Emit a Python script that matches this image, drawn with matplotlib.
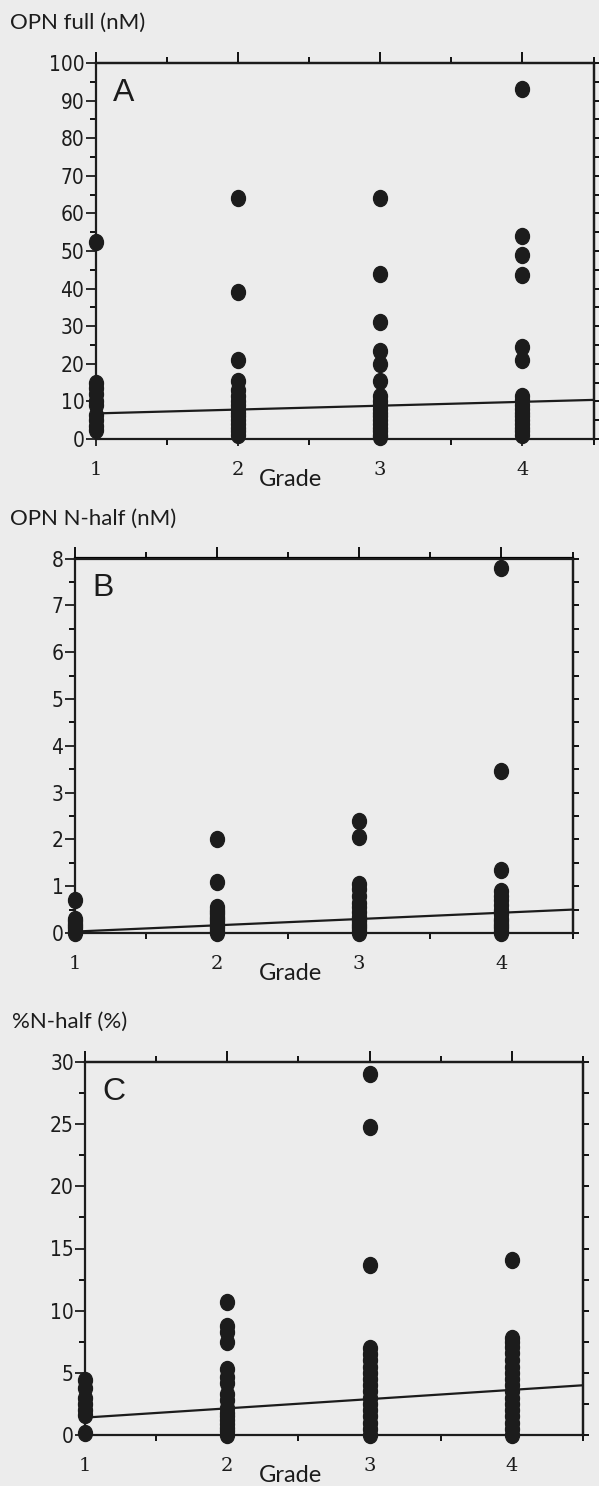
import numpy as np
import matplotlib
matplotlib.use("Agg")
import matplotlib.pyplot as plt
from matplotlib.path import Path
from matplotlib.ticker import MultipleLocator

W, H = 599, 1486
BG = "#ececec"
INK = "#1c1c1c"

# ---- data ----
grades = [1, 2, 3, 4]

opn_full = [
    [52.5, 15, 13.5, 12, 10, 9, 6.5, 5, 3.5, 2.5],
    [64, 39, 21, 15.5, 13, 11.5, 10, 9, 8, 7, 6, 5, 4, 3, 2, 1],
    [64, 44, 31, 23.5, 20, 15.5, 11.5, 10, 9, 8, 7, 6, 5, 4, 3, 2, 1, 0.5],
    [93, 54, 49, 43.5, 24.5, 21, 11.5, 10.5, 9, 8, 7, 6, 5, 4, 3, 2, 1],
]
opn_nhalf = [
    [0.7, 0.3, 0.25, 0.2, 0.15, 0.1, 0.05, 0.0],
    [2.0, 1.1, 0.55, 0.5, 0.45, 0.4, 0.35, 0.3, 0.25, 0.2, 0.15, 0.1, 0.05, 0.0],
    [2.4, 2.05, 1.05, 0.95, 0.8, 0.65, 0.55, 0.45, 0.35, 0.3, 0.25, 0.2,
     0.15, 0.1, 0.05, 0.0],
    [7.8, 3.45, 1.35, 0.9, 0.8, 0.7, 0.6, 0.5, 0.45, 0.4, 0.3, 0.25, 0.2,
     0.15, 0.1, 0.05, 0.0],
]
pct_nhalf = [
    [4.4, 3.8, 3.0, 2.5, 2.0, 1.6, 0.2],
    [10.7, 8.8, 8.3, 7.5, 5.3, 4.7, 4.2, 3.3, 2.8, 2.2, 1.8, 1.5, 1.2, 0.9,
     0.6, 0.3, 0.0],
    [29.0, 24.8, 13.7, 7.0, 6.5, 6.0, 5.5, 5.0, 4.5, 4.0, 3.5, 3.0, 2.5, 2.0,
     1.5, 1.0, 0.5, 0.0],
    [14.1, 7.8, 7.5, 7.1, 6.6, 6.0, 5.5, 5.0, 4.5, 4.0, 3.5, 3.0, 2.5, 2.0,
     1.5, 1.0, 0.5, 0.0],
]

# regression line end points at grade 1 and at the right edge (4.5)
fit_x = [1, 4.5]
fit_full = [6.8, 10.4]
fit_nhalf = [0.03, 0.5]
fit_pct = [1.4, 4.0]

# panel: data, fit, ymax, major, minor, letter, ylabel, box (l, r, t, b px)
PANELS = [
    (opn_full, fit_full, 100, 10, 5, "A", "OPN full (nM)",
     (95.5, 593.5, 63, 439), 9.5),
    (opn_nhalf, fit_nhalf, 8, 1, 0.5, "B", "OPN N-half (nM)",
     (74.5, 572.5, 558.5, 933), 9.5),
    (pct_nhalf, fit_pct, 30, 5, 2.5, "C", "%N-half (%)",
     (85, 583, 1062, 1435), 11.5),
]

circ = Path.unit_circle()
dot = Path(circ.vertices * np.array([0.87, 1.0]), circ.codes)

fig = plt.figure(figsize=(W / 100, H / 100), dpi=100, facecolor=BG)

for data, fit, ymax, major, minor, letter, ylabel, (l, r, t, b), tx in PANELS:
    ax = fig.add_axes([l / W, 1 - b / H, (r - l) / W, (b - t) / H])
    ax.set_facecolor(BG)
    ax.set_xlim(1, 4.5)
    ax.set_ylim(0, ymax)

    for g, vals in zip(grades, data):
        ax.plot([g] * len(vals), vals, linestyle="none", marker=dot,
                markersize=11.5, color=INK, clip_on=False, zorder=3)
    ax.plot(fit_x, fit, color=INK, linewidth=1.6, zorder=2)

    for s in ax.spines.values():
        s.set_linewidth(1.6)
        s.set_color(INK)

    # left axis
    ax.yaxis.set_major_locator(MultipleLocator(major))
    ax.yaxis.set_minor_locator(MultipleLocator(minor))
    ax.tick_params(axis="y", which="major", direction="out", length=7,
                   width=1.3, pad=1, labelsize=15, colors=INK)
    ax.tick_params(axis="y", which="minor", direction="out", length=4,
                   width=1.3)
    for lab in ax.get_yticklabels():
        lab.set_family(["DejaVu Sans"])
        lab.set_stretch("condensed")

    # bottom axis
    ax.set_xticks(grades)
    ax.xaxis.set_minor_locator(MultipleLocator(0.5))
    ax.tick_params(axis="x", which="major", direction="out", length=5,
                   width=1.3, pad=11, labelsize=14, colors=INK)
    ax.tick_params(axis="x", which="minor", direction="out", length=4,
                   width=1.3)
    for lab in ax.get_xticklabels():
        lab.set_family(["DejaVu Serif"])

    # top axis: longer ticks at integers
    top = ax.secondary_xaxis("top")
    top.set_xticks([1, 2, 3, 4])
    top.xaxis.set_minor_locator(MultipleLocator(0.5))
    top.tick_params(which="major", direction="out", length=8, width=1.3,
                    labeltop=False)
    top.tick_params(which="minor", direction="out", length=4, width=1.3)
    top.spines["top"].set_linewidth(1.6)

    # right axis: short ticks at every minor step
    right = ax.secondary_yaxis("right")
    right.yaxis.set_major_locator(MultipleLocator(minor))
    right.tick_params(which="major", direction="out", length=4, width=1.3,
                      labelright=False)
    right.spines["right"].set_linewidth(1.6)

    ax.text(0.035, 0.92, letter, transform=ax.transAxes, fontsize=23,
            family=["Liberation Sans", "DejaVu Sans"], ha="left",
            va="center", color=INK)

    fig.text(tx / W, 1 - (t - 40) / H, ylabel, fontsize=16,
             family=["Lato", "DejaVu Sans"], ha="left", va="center",
             color=INK)
    fig.text(291 / W, 1 - (b + 40) / H, "Grade", fontsize=17,
             family=["Lato", "DejaVu Sans"], ha="center", va="center",
             color=INK)

fig.savefig("out.png", dpi=100, facecolor=BG)
